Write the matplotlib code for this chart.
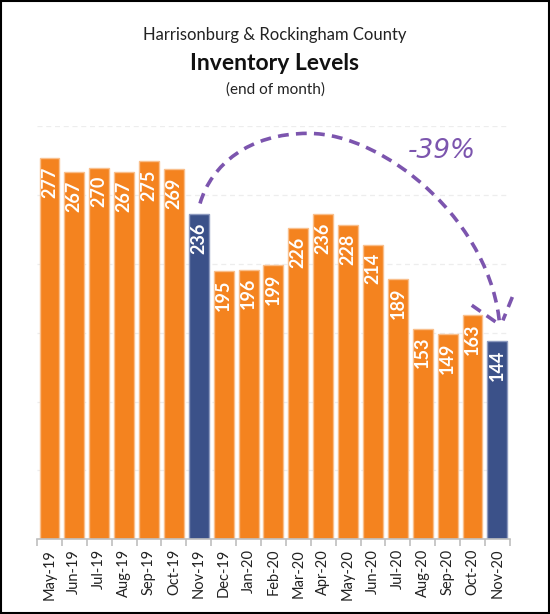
import matplotlib
matplotlib.use("Agg")
import matplotlib.pyplot as plt
from matplotlib.path import Path
from matplotlib.patches import PathPatch, Rectangle

months = ["May-19", "Jun-19", "Jul-19", "Aug-19", "Sep-19", "Oct-19", "Nov-19",
          "Dec-19", "Jan-20", "Feb-20", "Mar-20", "Apr-20", "May-20", "Jun-20",
          "Jul-20", "Aug-20", "Sep-20", "Oct-20", "Nov-20"]
inventory = [277, 267, 270, 267, 275, 269, 236, 195, 196, 199, 226, 236, 228,
             214, 189, 153, 149, 163, 144]
highlight = ["Nov-19", "Nov-20"]

ORANGE = "#F4831F"
BLUE = "#3B5189"
PURPLE = "#7C55AE"
FONT = ["Lato", "DejaVu Sans"]

plt.rcParams["font.family"] = FONT

fig = plt.figure(figsize=(5.5, 6.14), dpi=100)
ax = fig.add_axes([0.0673, 0.1221, 0.927 - 0.0673, 0.794 - 0.1221])

x = list(range(len(months)))
colors = [BLUE if m in highlight else ORANGE for m in months]
edges = ["#8E9BC0" if m in highlight else "#F9BF8C" for m in months]
bars = ax.bar(x, inventory, width=0.8, color=colors, edgecolor=edges, linewidth=1, zorder=3)

for xi, v in zip(x, inventory):
    ax.annotate(str(v), (xi, v), xytext=(0, -6), textcoords="offset points",
                rotation=90, ha="center", va="top", color="white",
                fontsize=13, fontweight="bold", zorder=4)

ax.set_xlim(-0.5, len(months) - 0.5)
ax.set_ylim(0, 300)
ax.set_yticks([50, 100, 150, 200, 250, 300])
ax.yaxis.grid(True, color="#EDEDED", linestyle=(0, (4, 3)), linewidth=0.9, zorder=0)
ax.tick_params(axis="y", left=False, labelleft=False)
for s in ["left", "right", "top"]:
    ax.spines[s].set_visible(False)
ax.spines["bottom"].set_color("#BFBFBF")
ax.spines["bottom"].set_linewidth(1.2)
ax.spines["bottom"].set_zorder(5)

ax.set_xticks(x)
ax.set_xticklabels(months, rotation=90, fontsize=10.5, color="#222222")
ax.tick_params(axis="x", which="major", length=0, pad=7)
ax.set_xticks([i - 0.5 for i in range(len(months) + 1)], minor=True)
ax.tick_params(axis="x", which="minor", length=5, color="#BFBFBF", width=1.2)

# annotation arrow (curved, dashed)
verts = [(6.05, 244), (6.5, 272), (8.0, 295), (10.4, 295),
         (13.5, 295), (17.8, 230), (18.1, 154)]
codes = [Path.MOVETO, Path.CURVE4, Path.CURVE4, Path.CURVE4,
         Path.CURVE4, Path.CURVE4, Path.CURVE4]
patch = PathPatch(Path(verts, codes), facecolor="none", edgecolor=PURPLE,
                  linewidth=2.6, linestyle=(0, (3, 2)), clip_on=False, zorder=6)
ax.add_patch(patch)
ax.plot([16.97, 18.0], [170, 157], color=PURPLE, lw=2.6, ls=(0, (3, 2)),
        clip_on=False, zorder=6)
ax.plot([18.6, 18.22], [176, 159], color=PURPLE, lw=2.6, ls=(0, (3, 2)),
        clip_on=False, zorder=6)
ax.text(15.75, 282, "-39%", color=PURPLE, fontsize=19, fontstyle="italic",
        fontweight="normal", family=["DejaVu Sans"], ha="center", va="center",
        zorder=6)

fig.text(0.5, 1 - 35 / 614, "Harrisonburg & Rockingham County", ha="center",
         va="center", fontsize=12, color="#222222")
fig.text(0.5, 1 - 63 / 614, "Inventory Levels", ha="center", va="center",
         fontsize=16.5, fontweight="bold", color="#111111")
fig.text(0.5, 1 - 90 / 614, "(end of month)", ha="center", va="center",
         fontsize=11, color="#222222")

fig.add_artist(Rectangle((0.002, 0.002), 0.996, 0.996, transform=fig.transFigure,
                         facecolor="none", edgecolor="black", linewidth=1.5))

fig.savefig("out.png", dpi=100)
